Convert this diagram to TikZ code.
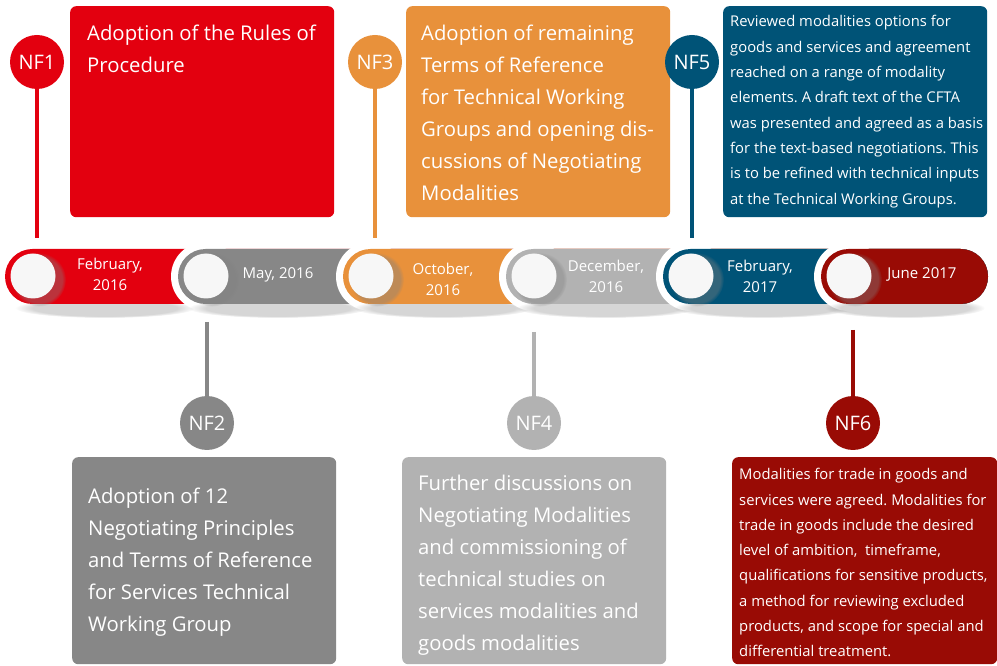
\documentclass[tikz,border=0pt]{standalone}
\usepackage{fontspec}
\setmainfont{Open Sans}
\usepackage{tikz}
\usetikzlibrary{positioning}
\usetikzlibrary{shadows}
\usetikzlibrary{fadings}
\frenchspacing
\definecolor{nfred}{HTML}{E3000F}
\definecolor{nfgray}{HTML}{878787}
\definecolor{nforange}{HTML}{E8913B}
\definecolor{nflight}{HTML}{B2B2B2}
\definecolor{nfblue}{HTML}{005377}
\definecolor{nfdark}{HTML}{990B05}
\definecolor{nfhole}{HTML}{F7F7F7}
\newcommand\bigtxt{\fontsize{20.3}{32}\selectfont}
\newcommand\smalltxt{\fontsize{14.8}{25.3}\selectfont}
\newcommand\tagtxt{\fontsize{20}{24}\selectfont}
\newcommand\datetxt{\fontsize{15}{21}\selectfont}
\tikzstyle{panel} = [rectangle, rounded corners=6pt, minimum width=264pt, inner sep=0pt, anchor=north west]
\tikzstyle{paneltext} = [text=white, align=left, inner sep=0pt, anchor=north west]
\tikzstyle{tag} = [circle, minimum size=54pt, inner sep=0pt, text=white, font=\tagtxt]
\tikzstyle{stem} = [line width=3.5pt]
\tikzstyle{hole} = [circle, fill=nfhole, minimum size=45pt, inner sep=0pt, circular drop shadow={shadow xshift=5pt, shadow yshift=-3pt, shadow scale=1.2, opacity=.4}]
\tikzstyle{date} = [text=white, align=center, font=\datetxt]
\tikzstyle{gap} = [circle, fill=white, minimum size=69pt, inner sep=0pt]
\tikzstyle{band} = [rounded corners=27.5pt]
\tikzstyle{floor} = [fill=black, fill opacity=.16, path fading=circle with fuzzy edge 20 percent]

\begin{document}
\begin{tikzpicture}[x=1pt, y=1pt]
\useasboundingbox (0,0) rectangle (997,665);

\node [panel, fill=nfred, minimum height=211pt] (b1) at (70,659) {};
\node [paneltext, font=\bigtxt] (t1) at (87,647.4) {\strut Adoption of the Rules of\\Procedure};
\node [tag, fill=nfred] (nf1) at (37,603) {NF1};
\coordinate (s1) at (37,427);
\draw [stem, nfred] (nf1) -- (s1);

\node [panel, fill=nforange, minimum height=211pt] (b3) at (406,659) {};
\node [paneltext, font=\bigtxt] (t3) at (421,647.4) {\strut Adoption of remaining\\Terms of Reference\\for Technical Working\\Groups and opening dis-\\cussions of Negotiating\\Modalities};
\node [tag, fill=nforange] (nf3) at (375,603) {NF3};
\coordinate (s3) at (375,427);
\draw [stem, nforange] (nf3) -- (s3);

\node [panel, fill=nfblue, minimum height=211pt] (b5) at (723,659) {};
\node [paneltext, font=\smalltxt] (t5) at (730,656) {\strut Reviewed modalities options for\\goods and services and agreement\\reached on a range of modality\\elements. A draft text of the CFTA\\was presented and agreed as a basis\\for the text-based negotiations. This\\is to be refined with technical inputs\\at the Technical Working Groups.};
\node [tag, fill=nfblue] (nf5) at (692,603) {NF5};
\coordinate (s5) at (692,427);
\draw [stem, nfblue] (nf5) -- (s5);

\fill [floor] (105,357) ellipse (90 and 10);
\fill [nfred, band] (5,361) rectangle (988,416);
\node [hole] (h1) at (33,389) {};
\node [date] (d1) at (110,391) {February,\\2016};

\node [gap] (g2) at (205.5,388.5) {};
\fill [floor] (278,357) ellipse (90 and 10);
\fill [nfgray, band] (178,361) rectangle (988,416);
\node [hole] (h2) at (206,389) {};
\node [date] (d2) at (278,390) {May, 2016};

\node [gap] (g3) at (370.5,388.5) {};
\fill [floor] (443,357) ellipse (90 and 10);
\fill [nforange, band] (343,361) rectangle (988,416);
\node [hole] (h3) at (371,389) {};
\node [date] (d3) at (443,386) {October,\\2016};

\node [gap] (g4) at (533.5,388.5) {};
\fill [floor] (606,357) ellipse (90 and 10);
\fill [nflight, band] (506,361) rectangle (988,416);
\node [hole] (h4) at (534,389) {};
\node [date] (d4) at (606,389) {December,\\2016};

\node [gap] (g5) at (690.5,388.5) {};
\fill [floor] (763,357) ellipse (90 and 10);
\fill [nfblue, band] (663,361) rectangle (988,416);
\node [hole] (h5) at (691,389) {};
\node [date] (d5) at (760,389) {February,\\2017};

\node [gap] (g6) at (848.5,388.5) {};
\fill [floor] (905,357) ellipse (80 and 10);
\fill [nfdark, band] (821,361) rectangle (988,416);
\node [hole] (h6) at (849,389) {};
\node [date] (d6) at (922,391) {June 2017};

\node [panel, fill=nfgray, minimum height=207pt] (b2) at (72,208) {};
\node [paneltext, font=\bigtxt] (t2) at (88,184.4) {\strut Adoption of 12\\Negotiating Principles\\and Terms of Reference\\for Services Technical\\Working Group};
\node [tag, fill=nfgray] (nf2) at (207,242) {NF2};
\coordinate (s2) at (207,343);
\draw [stem, nfgray] (s2) -- (nf2);

\node [panel, fill=nflight, minimum height=207pt] (b4) at (402,208) {};
\node [paneltext, font=\bigtxt] (t4) at (418,197.4) {\strut Further discussions on\\Negotiating Modalities\\and commissioning of\\technical studies on\\services modalities and\\goods modalities};
\node [tag, fill=nflight] (nf4) at (534,242) {NF4};
\coordinate (s4) at (534,333);
\draw [stem, nflight] (s4) -- (nf4);

\node [panel, fill=nfdark, minimum height=207pt, minimum width=265pt] (b6) at (732,208) {};
\node [paneltext, font=\smalltxt] (t6) at (739,203.2) {\strut Modalities for trade in goods and\\services were agreed. Modalities for\\trade in goods include the desired\\level of ambition,~ timeframe,\\qualifications for sensitive products,\\a method for reviewing excluded\\products, and scope for special and\\differential treatment.};
\node [tag, fill=nfdark] (nf6) at (853,242) {NF6};
\coordinate (s6) at (853,335);
\draw [stem, nfdark] (s6) -- (nf6);
\end{tikzpicture}
\end{document}
